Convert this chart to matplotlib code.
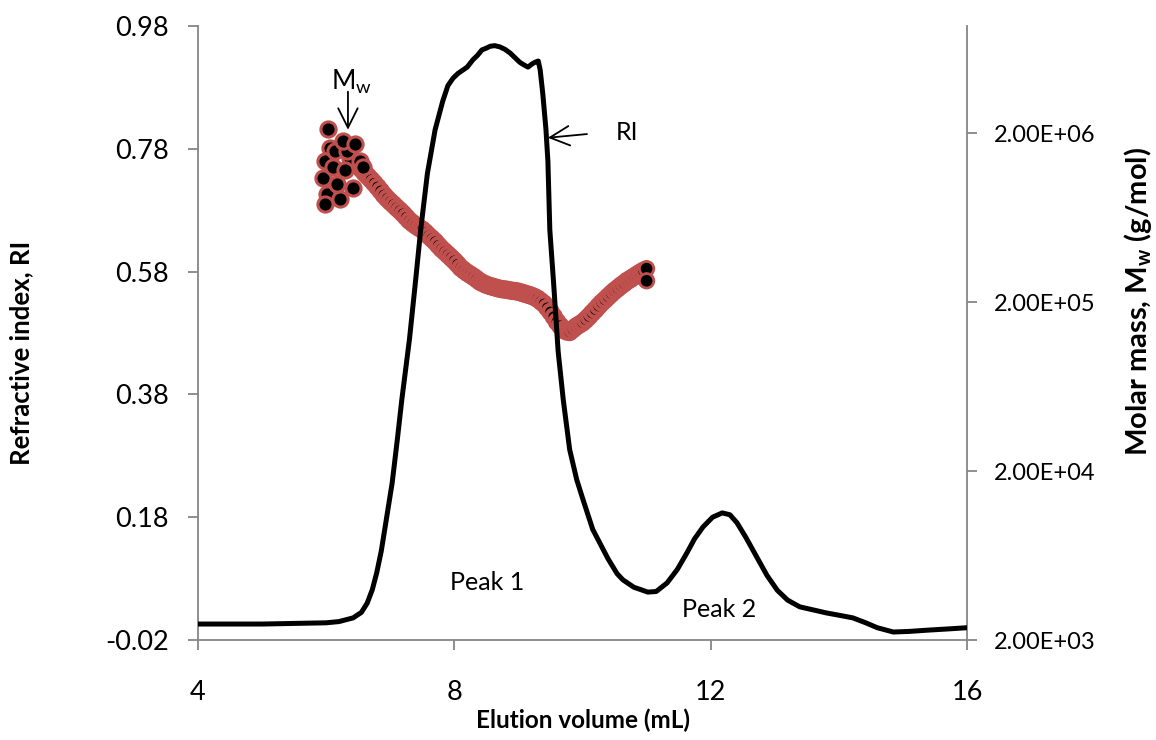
import matplotlib
matplotlib.use("Agg")
import matplotlib.pyplot as plt
from matplotlib.ticker import FixedLocator, NullLocator, FixedFormatter

# ---------------- data ----------------
# RI trace (elution volume mL, refractive index signal)
ri_volume = [4.0, 4.5, 5.0, 5.5, 6.0, 6.2, 6.42, 6.55, 6.64, 6.72, 6.79, 6.86, 6.92, 7.03,
             7.11, 7.18, 7.30, 7.40, 7.475, 7.58, 7.70, 7.82, 7.90, 7.98, 8.06, 8.13, 8.20,
             8.29, 8.36, 8.43, 8.50, 8.56, 8.63, 8.71, 8.79, 8.87, 8.95, 9.02, 9.08, 9.15,
             9.21, 9.26, 9.31, 9.34, 9.38, 9.43, 9.46, 9.49, 9.55, 9.62, 9.70, 9.80, 9.91,
             10.01, 10.16, 10.27, 10.40, 10.54, 10.63, 10.80, 11.02, 11.15, 11.32, 11.48,
             11.63, 11.75, 11.88, 12.03, 12.18, 12.30, 12.41, 12.55, 12.72, 12.88, 13.04,
             13.20, 13.39, 13.60, 13.81, 14.02, 14.22, 14.42, 14.60, 14.85, 15.10, 15.38,
             15.70, 16.0]
ri_signal = [0.006, 0.006, 0.006, 0.007, 0.008, 0.010, 0.016, 0.025, 0.040, 0.062, 0.090,
             0.125, 0.164, 0.236, 0.306, 0.371, 0.470, 0.570, 0.648, 0.740, 0.811, 0.858,
             0.883, 0.895, 0.903, 0.908, 0.913, 0.925, 0.932, 0.941, 0.944, 0.947, 0.948,
             0.946, 0.942, 0.936, 0.928, 0.921, 0.917, 0.913, 0.918, 0.921, 0.923, 0.908,
             0.870, 0.811, 0.760, 0.648, 0.560, 0.450, 0.371, 0.290, 0.241, 0.208, 0.160,
             0.138, 0.112, 0.088, 0.078, 0.066, 0.058, 0.059, 0.073, 0.095, 0.122, 0.145,
             0.164, 0.180, 0.187, 0.184, 0.171, 0.147, 0.115, 0.085, 0.061, 0.045, 0.034,
             0.029, 0.024, 0.020, 0.016, 0.008, 0.000, -0.007, -0.006, -0.004, -0.002,
             0.000]

# Weight-average molar mass, main trace (elution volume mL, g/mol)
mw_volume = [6.50, 6.55, 6.60, 6.65, 6.70, 6.75, 6.80, 6.85, 6.90, 6.95, 7.00, 7.05, 7.10,
             7.15, 7.20, 7.25, 7.30, 7.35, 7.40, 7.45, 7.50, 7.55, 7.60, 7.65, 7.70, 7.75,
             7.80, 7.85, 7.90, 7.95, 8.00, 8.05, 8.10, 8.15, 8.20, 8.25, 8.30, 8.35, 8.40,
             8.45, 8.50, 8.55, 8.60, 8.65, 8.70, 8.75, 8.80, 8.85, 8.90, 8.95, 9.00, 9.05,
             9.10, 9.15, 9.20, 9.25, 9.30, 9.35, 9.40, 9.45, 9.50, 9.55, 9.60, 9.65, 9.70,
             9.75, 9.80, 9.85, 9.90, 9.95, 10.00, 10.05, 10.10, 10.15, 10.20, 10.25, 10.30,
             10.35, 10.40, 10.45, 10.50, 10.55, 10.60, 10.65, 10.70, 10.75, 10.80, 10.85,
             10.90, 10.95, 11.00, 11.00]
mw_mass = [1.28e6, 1.22e6, 1.16e6, 1.11e6, 1.06e6, 1.01e6, 9.6e5, 9.1e5, 8.6e5, 8.2e5,
           7.85e5, 7.55e5, 7.23e5, 6.95e5, 6.66e5, 6.35e5, 6.06e5, 5.85e5, 5.66e5, 5.50e5,
           5.36e5, 5.15e5, 4.93e5, 4.74e5, 4.55e5, 4.33e5, 4.13e5, 3.97e5, 3.81e5, 3.66e5,
           3.51e5, 3.35e5, 3.19e5, 3.08e5, 2.98e5, 2.90e5, 2.82e5, 2.73e5, 2.64e5, 2.58e5,
           2.53e5, 2.49e5, 2.46e5, 2.43e5, 2.40e5, 2.38e5, 2.37e5, 2.35e5, 2.33e5, 2.32e5,
           2.30e5, 2.27e5, 2.24e5, 2.21e5, 2.18e5, 2.14e5, 2.09e5, 2.02e5, 1.95e5, 1.85e5,
           1.75e5, 1.64e5, 1.53e5, 1.45e5, 1.37e5, 1.34e5, 1.33e5, 1.38e5, 1.43e5, 1.47e5,
           1.51e5, 1.57e5, 1.64e5, 1.72e5, 1.80e5, 1.89e5, 1.98e5, 2.06e5, 2.15e5, 2.24e5,
           2.33e5, 2.41e5, 2.50e5, 2.58e5, 2.67e5, 2.74e5, 2.82e5, 2.90e5, 2.98e5, 3.06e5,
           3.15e5, 2.67e5]
# scattered early-eluting points (elution volume mL, g/mol)
mw_early_volume = [6.06, 5.98, 5.95, 6.01, 6.22, 5.98, 6.11, 6.17, 6.42, 6.37, 6.29, 6.14,
                   6.33, 6.53, 6.57, 6.26, 6.45, 6.03]
mw_early_mass = [1.64e6, 1.37e6, 1.09e6, 8.75e5, 8.17e5, 7.64e5, 1.25e6, 1.00e6, 9.5e5,
                 1.43e6, 1.20e6, 1.57e6, 1.57e6, 1.37e6, 1.25e6, 1.80e6, 1.73e6, 2.12e6]

x_ticks = [4, 8, 12, 16]
ri_ticks = [-0.02, 0.18, 0.38, 0.58, 0.78, 0.98]
ri_tick_labels = ["-0.02", "0.18", "0.38", "0.58", "0.78", "0.98"]
mw_ticks = [2e3, 2e4, 2e5, 2e6]
mw_tick_labels = ["2.00E+03", "2.00E+04", "2.00E+05", "2.00E+06"]

# ---------------- figure ----------------
plt.rcParams['font.family'] = ['Lato', 'DejaVu Sans']
plt.rcParams['mathtext.fontset'] = 'custom'
plt.rcParams['mathtext.rm'] = 'Lato'
plt.rcParams['mathtext.bf'] = 'Lato:bold'

GREY = '#868686'
RED = '#C0504D'

fig = plt.figure(figsize=(11.56, 7.40), dpi=100)
ax = fig.add_axes([198/1156, 1-640/740, (967-198)/1156, (640-26)/740])
ax2 = ax.twinx()
# RI line drawn above the molar-mass markers
ax.set_zorder(ax2.get_zorder() + 1)
ax.patch.set_visible(False)

ax.plot(ri_volume, ri_signal, color='black', lw=3.6, solid_capstyle='round',
        solid_joinstyle='round', zorder=3)
ax.set_xlim(4, 16)
ax.set_ylim(-0.02, 0.98)
ax.xaxis.set_major_locator(FixedLocator(x_ticks))
ax.yaxis.set_major_locator(FixedLocator(ri_ticks))
ax.yaxis.set_major_formatter(FixedFormatter(ri_tick_labels))

ax2.set_yscale('log')
ax2.set_ylim(2e3, 2e3 * 10 ** (614 / 169))
ax2.yaxis.set_major_locator(FixedLocator(mw_ticks))
ax2.yaxis.set_major_formatter(FixedFormatter(mw_tick_labels))
ax2.yaxis.set_minor_locator(NullLocator())
n_main = len(mw_volume)
edge_widths = [2.9] * (n_main - 2) + [2.0, 2.0]
ax2.scatter(mw_volume, mw_mass, s=108, facecolor='black', edgecolor=RED,
            linewidths=edge_widths, zorder=4)
ax2.scatter(mw_early_volume, mw_early_mass, s=120, facecolor='black', edgecolor=RED,
            linewidths=2.2, zorder=5)

for a in (ax, ax2):
    a.spines['top'].set_visible(False)
    for side in ('left', 'right', 'bottom'):
        a.spines[side].set_color(GREY)
        a.spines[side].set_linewidth(1.3)
ax.spines['right'].set_visible(False)
ax2.spines['left'].set_visible(False)
ax2.spines['bottom'].set_visible(False)

ax.tick_params(axis='y', direction='out', length=7, width=1.3, color=GREY,
               labelsize=19.5, pad=14)
ax.tick_params(axis='x', direction='out', length=7, width=1.3, color=GREY,
               labelsize=19.5, pad=22)
ax2.tick_params(axis='y', direction='out', length=7, width=1.3, color=GREY,
                labelsize=17, pad=12)

ax.set_xlabel('Elution volume (mL)', fontsize=17.5, fontweight='bold')
ax.xaxis.set_label_coords(0.5, -0.112)
ax.set_ylabel('Refractive index, RI', fontsize=18.5, fontweight='bold')
ax.yaxis.set_label_coords(-0.2146, 0.467)
ax2.set_ylabel(r'Molar mass, M$_\mathbf{w}$ (g/mol)', fontsize=21, fontweight='bold')
ax2.yaxis.set_label_coords(1.202, 0.552)

# annotations
ax.text(8.51, 0.073, 'Peak 1', fontsize=18, ha='center', va='center')
ax.text(12.13, 0.030, 'Peak 2', fontsize=18, ha='center', va='center')
ax.text(10.69, 0.806, 'RI', fontsize=18, ha='center', va='center')
ax.annotate('', xy=(9.46, 0.798), xytext=(10.07, 0.804),
            arrowprops=dict(arrowstyle='->,head_length=0.7,head_width=0.35',
                            color='black', lw=1.3, mutation_scale=20,
                            shrinkA=0, shrinkB=0))
ax.text(6.40, 0.889, r'M$_\mathregular{w}$', fontsize=19, ha='center', va='center')
ax.annotate('', xy=(6.34, 0.811), xytext=(6.34, 0.873),
            arrowprops=dict(arrowstyle='->,head_length=0.7,head_width=0.35',
                            color='black', lw=1.3, mutation_scale=20,
                            shrinkA=0, shrinkB=0))

fig.savefig('out.png', dpi=100)
